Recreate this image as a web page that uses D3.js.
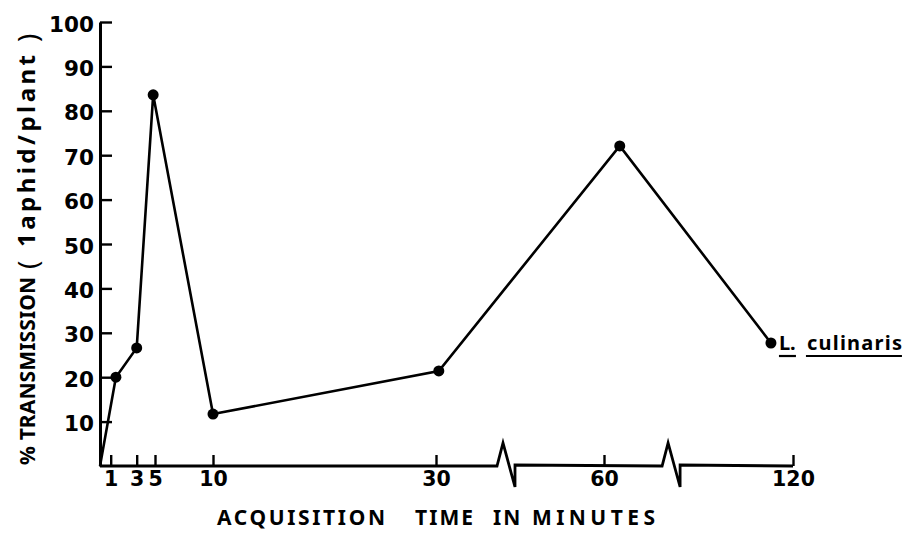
<!DOCTYPE html>
<html>
<head>
<meta charset="utf-8">
<script src="https://cdn.jsdelivr.net/npm/d3@7"></script>
<style>
  html, body { margin: 0; padding: 0; background: #fff; }
  svg { display: block; }
</style>
</head>
<body>
<svg id="chart" width="906" height="538"></svg>
<script>
// Acquisition time (minutes) against % transmission, one aphid per plant
const times        = [0, 1.4, 3, 4.8, 10, 30.5, 65, 113];
const transmission = [0, 20, 26.6, 83.6, 11.7, 21.4, 72.1, 27.7];

const xTicks = [1, 3, 5, 10, 30, 60, 120];
const yTicks = [10, 20, 30, 40, 50, 60, 70, 80, 90, 100];

// where the time axis is cut (minutes)
const axisBreaks = [42.5, 81.3];

const seriesGenus   = "L.";
const seriesSpecies = "culinaris";

const xTitleWords = ["ACQUISITION", "TIME", "IN", "MINUTES"];
const yTitleMain  = "% TRANSMISSION";
const yTitleUnit  = "1aphid/plant";

const svg = d3.select("#chart");
svg.append("rect").attr("width", 906).attr("height", 538).attr("fill", "#fff");

// broken time axis: each segment is linear, the segments are compressed
const x = d3.scaleLinear()
  .domain([0, ...xTicks])
  .range([100, 110.7, 136.7, 155, 213, 436, 604, 793]);

const y = d3.scaleLinear().domain([0, 100]).range([466, 22]);

const tickFont = "'DejaVu Sans', 'Liberation Sans', sans-serif";
const titleFont = "'Noto Sans', 'Open Sans', sans-serif";

// y axis
const yAxis = svg.append("g")
  .attr("transform", `translate(${x(0)},0)`)
  .call(d3.axisLeft(y).tickValues(yTicks).tickSizeInner(-12).tickSizeOuter(0).tickPadding(6));
yAxis.select(".domain").attr("stroke", "#000").attr("stroke-width", 3);
yAxis.selectAll(".tick line").attr("stroke", "#000").attr("stroke-width", 2.4);
yAxis.selectAll(".tick text")
  .attr("fill", "#000")
  .attr("font-family", tickFont)
  .attr("font-weight", "bold")
  .attr("font-size", 21.5)
  .attr("dy", "0.42em");

// x axis ticks and labels; the baseline is drawn separately with its breaks
const base = y(0);
const xAxis = svg.append("g")
  .attr("transform", `translate(0,${base})`)
  .call(d3.axisBottom(x).tickValues(xTicks).tickSizeInner(-11).tickSizeOuter(0).tickPadding(5.5));
xAxis.select(".domain").remove();
xAxis.selectAll(".tick line").attr("stroke", "#000").attr("stroke-width", 2.4);
xAxis.selectAll(".tick text")
  .attr("fill", "#000")
  .attr("font-family", tickFont)
  .attr("font-weight", "bold")
  .attr("font-size", 20.5);

// baseline with zig-zag breaks
const bp = d3.path();
bp.moveTo(x(0), base);
axisBreaks.forEach(b => {
  const c = x(b);
  bp.lineTo(c - 9, base);
  bp.lineTo(c - 3, base - 23);
  bp.lineTo(c + 9, base + 21);
  bp.lineTo(c + 9, base - 1);
});
bp.lineTo(x(120), base);
svg.append("path")
  .attr("d", bp.toString())
  .attr("fill", "none")
  .attr("stroke", "#000")
  .attr("stroke-width", 2.8)
  .attr("stroke-linejoin", "miter");

// data line and points
const pts = times.map((t, i) => [t, transmission[i]]);
svg.append("path")
  .datum(pts)
  .attr("d", d3.line().x(d => x(d[0])).y(d => y(d[1])))
  .attr("fill", "none")
  .attr("stroke", "#000")
  .attr("stroke-width", 2.6);

svg.append("g").selectAll("circle")
  .data(pts.slice(1))
  .join("circle")
  .attr("cx", d => x(d[0]))
  .attr("cy", d => y(d[1]))
  .attr("r", 5.5)
  .attr("fill", "#000");

// series label with typed underlines
const last = pts[pts.length - 1];
const lx = x(last[0]) + 8, ly = y(last[1]) + 7;
svg.append("text")
  .attr("x", lx).attr("y", ly)
  .attr("font-family", titleFont).attr("font-weight", "bold").attr("font-size", 20)
  .text(seriesGenus);
svg.append("text")
  .attr("x", lx + 28).attr("y", ly)
  .attr("font-family", titleFont).attr("font-weight", "bold").attr("font-size", 20)
  .attr("textLength", 95).attr("lengthAdjust", "spacing")
  .text(seriesSpecies);
[[lx, lx + 17], [lx + 27, lx + 123]].forEach(([a, b]) => {
  svg.append("line")
    .attr("x1", a).attr("x2", b)
    .attr("y1", ly + 6).attr("y2", ly + 6)
    .attr("stroke", "#000").attr("stroke-width", 2.2);
});

// x title, word by word (start x, width in px)
const wordSpans = [[217, 168], [415, 58], [493, 0], [532, 123]];
xTitleWords.forEach((w, i) => {
  const t = svg.append("text")
    .attr("x", wordSpans[i][0]).attr("y", 525)
    .attr("font-family", titleFont).attr("font-weight", "bold").attr("font-size", 21)
    .text(w);
  if (wordSpans[i][1] > 0) {
    t.attr("textLength", wordSpans[i][1]).attr("lengthAdjust", "spacing");
  } else {
    t.attr("letter-spacing", 2);
  }
});

// y title, read bottom to top
const yt = svg.append("g").attr("transform", "translate(35,465) rotate(-90)");
yt.append("text")
  .attr("x", 0).attr("y", 0)
  .attr("font-family", titleFont).attr("font-weight", "bold").attr("font-size", 21)
  .attr("textLength", 188).attr("lengthAdjust", "spacing")
  .text(yTitleMain);
yt.append("text")
  .attr("x", 196).attr("y", 3)
  .attr("font-family", titleFont).attr("font-weight", "normal").attr("font-size", 28)
  .text("(");
yt.append("text")
  .attr("x", 218).attr("y", 0)
  .attr("font-family", titleFont).attr("font-weight", "bold").attr("font-size", 24)
  .attr("textLength", 192).attr("lengthAdjust", "spacing")
  .text(yTitleUnit);
yt.append("text")
  .attr("x", 423).attr("y", 3)
  .attr("font-family", titleFont).attr("font-weight", "normal").attr("font-size", 28)
  .text(")");
</script>
</body>
</html>
